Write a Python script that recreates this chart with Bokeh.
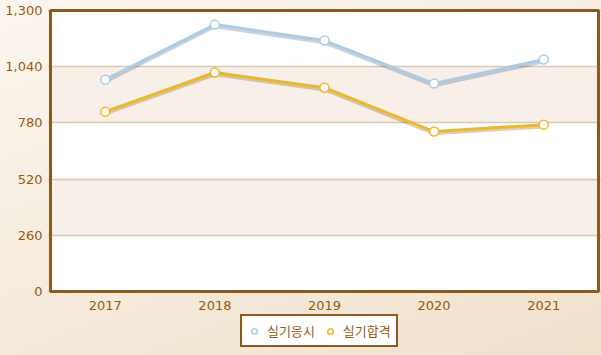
from bokeh.plotting import figure
from bokeh.models import (ColumnDataSource, BoxAnnotation, Legend, LegendItem,
                          NumeralTickFormatter, FixedTicker, Range1d, FactorRange)
from bokeh.core.properties import value
from bokeh.transform import dodge
from bokeh.embed import file_html
from bokeh.resources import INLINE

years = ["2017", "2018", "2019", "2020", "2021"]
applicants = [980, 1235, 1161, 962, 1073]
passed = [832, 1013, 943, 740, 772]
series_names = ["실기응시", "실기합격"]
y_ticks = [0, 260, 520, 780, 1040, 1300]

BROWN = "#8c5a1c"
TEXT = "#9a5a0c"
BLUE = "#a9cde9"
GOLD = "#f2b81b"

# layout geometry (pixels)
PLOT_H = 281.0
PX_PER_UNIT = PLOT_H / y_ticks[-1]
PAD = 3.0
CAT_W = 109.6
BOTTOM_SPACE = 64.0

src = ColumnDataSource(dict(x=years, a=applicants, b=passed))

x_range = FactorRange(factors=years, range_padding=PAD / CAT_W, range_padding_units="absolute")
y_range = Range1d(y_ticks[0] - BOTTOM_SPACE / PX_PER_UNIT, y_ticks[-1] + PAD / PX_PER_UNIT)

p = figure(x_range=x_range, y_range=y_range,
           frame_width=int(CAT_W * len(years) + 2 * PAD), frame_height=int(PLOT_H + PAD + BOTTOM_SPACE),
           output_backend="svg", toolbar_location=None,
           min_border_left=47, min_border_right=0, min_border_top=7, min_border_bottom=0)
p.styles = {"background": "linear-gradient(160deg, #fcf6ef 0%, #f6ecdf 50%, #efe1cc 100%)"}
p.border_fill_alpha = 0
p.background_fill_alpha = 0
p.outline_line_color = None

n = len(years)
# plot area background and bands
p.add_layout(BoxAnnotation(left=0, right=n, bottom=y_ticks[0], top=y_ticks[-1],
                           fill_color="white", fill_alpha=1, line_alpha=0, level="image"))
for lo, hi in [(y_ticks[1], y_ticks[2]), (y_ticks[3], y_ticks[4])]:
    p.add_layout(BoxAnnotation(left=0, right=n, bottom=lo, top=hi, fill_color="#f8f0e8",
                               fill_alpha=1, line_alpha=0, level="image"))
# frame border
p.add_layout(BoxAnnotation(left=0, right=n, bottom=y_ticks[0], top=y_ticks[-1],
                           fill_alpha=0, line_color=BROWN, line_alpha=1, line_width=3,
                           level="overlay"))

p.xgrid.grid_line_color = None
p.ygrid.grid_line_color = "#dcc8aa"
p.ygrid.grid_line_width = 1.5
p.ygrid.level = "underlay"
p.xaxis.visible = False
p.yaxis.ticker = FixedTicker(ticks=y_ticks)
p.yaxis.formatter = NumeralTickFormatter(format="0,0")
ax = p.yaxis[0]
ax.axis_line_color = None
ax.major_tick_line_color = None
ax.minor_tick_line_color = None
ax.major_tick_out = 0
ax.major_tick_in = 0
ax.minor_tick_out = 0
ax.major_label_text_color = TEXT
ax.major_label_text_font = "DejaVu Sans"
ax.major_label_text_font_size = "13px"
ax.major_label_standoff = 5

# x category labels
p.text(x=years, y=[y_ticks[0]] * n, text=years, y_offset=14, text_align="center",
       text_baseline="middle", text_color=TEXT, text_font=value("DejaVu Sans"),
       text_font_size="13px")

sh = -2 / PX_PER_UNIT
for col in ["a", "b"]:
    p.line("x", dodge(col, sh, range=p.y_range), source=src, line_color="#000000",
           line_alpha=0.18, line_width=3.5)
for col, color in [("a", BLUE), ("b", GOLD)]:
    p.line("x", col, source=src, line_color=color, line_width=3)

r1 = p.scatter("x", "a", source=src, size=9, fill_color="white", line_color=BLUE, line_width=1.5)
r2 = p.scatter("x", "b", source=src, size=9, fill_color="white", line_color=GOLD, line_width=1.5)

legend = Legend(items=[LegendItem(label=series_names[0], renderers=[r1]),
                       LegendItem(label=series_names[1], renderers=[r2])],
                orientation="horizontal", location=(193, 8),
                border_line_color=BROWN, border_line_width=2, border_line_alpha=1,
                background_fill_color="white", background_fill_alpha=1,
                label_text_color=TEXT, label_text_font="Noto Sans CJK KR",
                label_text_font_size="13px", glyph_width=14, glyph_height=14,
                spacing=8, padding=5, margin=0, label_standoff=6)
p.add_layout(legend, "center")

open("out.html", "w").write(file_html(p, INLINE))
